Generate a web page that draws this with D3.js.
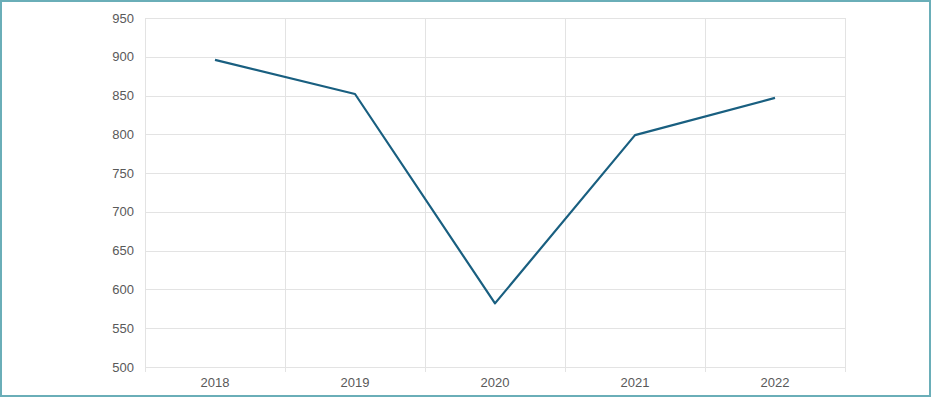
<!DOCTYPE html>
<html>
<head>
<meta charset="utf-8">
<script src="https://cdn.jsdelivr.net/npm/d3@7"></script>
<style>
  html, body { margin: 0; padding: 0; background: #fff; }
  #chart { width: 931px; height: 397px; box-sizing: border-box; border: 2px solid #6aaeb8; }
  text { font-family: "Liberation Sans", Arial, sans-serif; }
</style>
</head>
<body>
<div id="chart"></div>
<script>
const years = ['2018', '2019', '2020', '2021', '2022'];
const values = [896, 852, 582, 799, 847];
const yTicks = [500, 550, 600, 650, 700, 750, 800, 850, 900, 950];

const margin = { top: 16, right: 86, bottom: 30, left: 143 };
const width = 929 - margin.left - margin.right;
const height = 395 - margin.top - margin.bottom;

const svg = d3.select('#chart')
    .append('svg')
    .attr('width', 927)
    .attr('height', 393)
    .style('display', 'block')
    .append('g')
    .attr('transform', `translate(${margin.left},${margin.top})`);

const x = d3.scaleBand()
    .domain(years)
    .range([0, width]);

const y = d3.scaleLinear()
    .domain([500, 950])
    .range([height, 0]);

// Horizontal gridlines
svg.append('g')
    .selectAll('line')
    .data(yTicks)
    .enter()
    .append('line')
    .attr('x1', 0)
    .attr('x2', width)
    .attr('y1', d => Math.round(y(d)) + 0.5)
    .attr('y2', d => Math.round(y(d)) + 0.5)
    .attr('stroke', '#e3e3e3')
    .attr('stroke-width', 1);

// Vertical gridlines at category boundaries
const bounds = years.map(d => x(d)).concat([width]);
svg.append('g')
    .selectAll('line')
    .data(bounds)
    .enter()
    .append('line')
    .attr('x1', d => Math.round(d) + 0.5)
    .attr('x2', d => Math.round(d) + 0.5)
    .attr('y1', 0)
    .attr('y2', height + 5)
    .attr('stroke', '#e3e3e3')
    .attr('stroke-width', 1);

// Y axis labels
svg.append('g')
    .selectAll('text')
    .data(yTicks)
    .enter()
    .append('text')
    .attr('x', -11)
    .attr('y', d => y(d))
    .attr('dy', '0.35em')
    .attr('text-anchor', 'end')
    .attr('font-size', 13)
    .attr('fill', '#595959')
    .text(d => d);

// X axis labels
svg.append('g')
    .selectAll('text')
    .data(years)
    .enter()
    .append('text')
    .attr('x', d => x(d) + x.bandwidth() / 2)
    .attr('y', height + 20)
    .attr('text-anchor', 'middle')
    .attr('font-size', 13)
    .attr('fill', '#595959')
    .text(d => d);

// Line
const line = d3.line()
    .x((d, i) => x(years[i]) + x.bandwidth() / 2)
    .y(d => y(d));

svg.append('path')
    .datum(values)
    .attr('fill', 'none')
    .attr('stroke', '#195f80')
    .attr('stroke-width', 2.2)
    .attr('stroke-linejoin', 'round')
    .attr('d', line);
</script>
</body>
</html>
